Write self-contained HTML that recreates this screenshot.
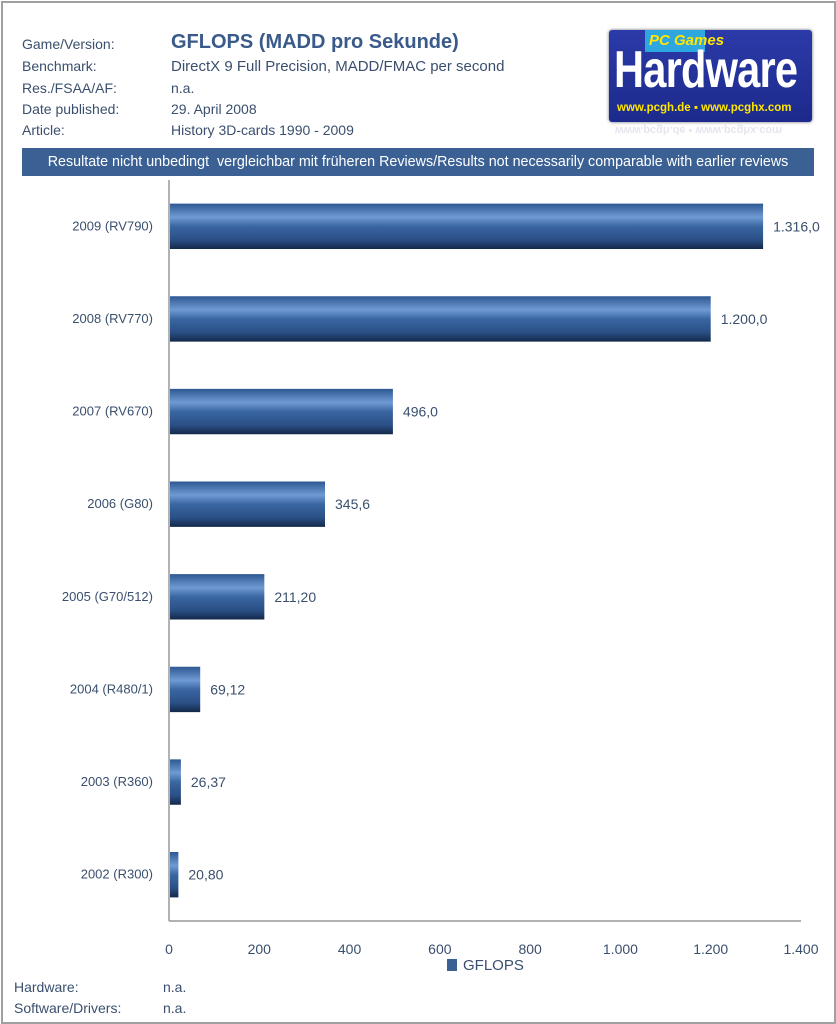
<!DOCTYPE html>
<html><head><meta charset="utf-8"><style>
body{margin:0;width:836px;height:1024px;background:#fff;font-family:"Liberation Sans",sans-serif;position:relative;overflow:hidden}
.t{position:absolute;font-size:14px;color:#3a4f6e;white-space:nowrap}
</style></head><body>
<div style="position:absolute;left:1px;top:1px;width:831px;height:1019px;border:2px solid #a0a0a0"></div>
<div class="t" style="left:22px;top:36px">Game/Version:</div>
<div class="t" style="left:171px;top:31px;font-size:20px;font-weight:bold;color:#3a5a8a">GFLOPS (MADD pro Sekunde)</div>
<div class="t" style="left:22px;top:58px">Benchmark:</div>
<div class="t" style="left:171px;top:58px;font-size:15px">DirectX 9 Full Precision, MADD/FMAC per second</div>
<div class="t" style="left:22px;top:80px">Res./FSAA/AF:</div>
<div class="t" style="left:171px;top:80px">n.a.</div>
<div class="t" style="left:22px;top:101px">Date published:</div>
<div class="t" style="left:171px;top:101px">29. April 2008</div>
<div class="t" style="left:22px;top:122px">Article:</div>
<div class="t" style="left:171px;top:122px">History 3D-cards 1990 - 2009</div>
<div style="position:absolute;left:609px;top:30px;width:203px;height:92px;background:linear-gradient(#2b3aa8,#1c2a8c);border-radius:3px;box-shadow:0 0 3px #667;overflow:hidden">
 <div style="position:absolute;left:36px;top:0;width:60px;height:22px;background:#2ea6e0"></div>
 <div style="position:absolute;left:40px;top:2px;color:#ffe600;font-size:15px;font-weight:bold;font-style:italic">PC Games</div>
 <div style="position:absolute;left:5px;top:10px;color:#fff;font-size:52px;font-weight:bold;letter-spacing:-1px;transform:scaleX(0.8);transform-origin:left">Hardware</div>
 <div style="position:absolute;left:8px;top:72px;color:#ffe600;font-size:11.5px;font-weight:bold">www.pcgh.de ▪ www.pcghx.com</div>
</div>
<div style="position:absolute;left:615px;top:122px;width:190px;height:14px;color:#ccd;font-size:11px;font-weight:bold;transform:scaleY(-1);opacity:.5">www.pcgh.de ▪ www.pcghx.com</div>
<div style="position:absolute;left:22px;top:148px;width:792px;height:28px;background:#3b6194;color:#fff;font-size:14.3px;line-height:28px;text-align:center;white-space:nowrap">Resultate nicht unbedingt&nbsp; vergleichbar mit früheren Reviews/Results not necessarily comparable with earlier reviews</div>
<svg id="c" width="836" height="1024" style="position:absolute;left:0;top:0">
<defs><linearGradient id="g" x1="0" y1="0" x2="0" y2="1">
<stop offset="0" stop-color="#2d5892"/><stop offset="0.3" stop-color="#6f9ad4"/><stop offset="0.5" stop-color="#3a66a2"/><stop offset="0.8" stop-color="#2a4f85"/><stop offset="1" stop-color="#13284a"/></linearGradient></defs>
</svg>
<div style="position:absolute;left:447px;top:957px;font-size:15px;color:#3a4f6e"><span style="display:inline-block;width:10px;height:12px;background:#3b6194;margin-right:6px;vertical-align:-1px"></span>GFLOPS</div>
<div class="t" style="left:14px;top:979px">Hardware:</div>
<div class="t" style="left:163px;top:979px">n.a.</div>
<div class="t" style="left:14px;top:1000px">Software/Drivers:</div>
<div class="t" style="left:163px;top:1000px">n.a.</div>
<script>
const categories=["2009 (RV790)","2008 (RV770)","2007 (RV670)","2006 (G80)","2005 (G70/512)","2004 (R480/1)","2003 (R360)","2002 (R300)"];
const values=[1316,1200,496,345.6,211.2,69.12,26.37,20.8];
const valueLabels=["1.316,0","1.200,0","496,0","345,6","211,20","69,12","26,37","20,80"];
const ticks=[0,200,400,600,800,1000,1200,1400];
const tickLabels=["0","200","400","600","800","1.000","1.200","1.400"];
const svg=document.getElementById('c'),NS="http://www.w3.org/2000/svg";
const X0=169,X1=801,Y0=180,Y1=921;
const x=v=>X0+(v/1400)*(X1-X0);
const band=(Y1-Y0)/categories.length;
const yc=i=>Y0+band*(i+0.5);
function mk(t,a){const e=document.createElementNS(NS,t);for(const k in a)e.setAttribute(k,a[k]);svg.appendChild(e);return e;}
let ax=mk('line',{x1:X0,y1:Y0,x2:X0,y2:Y1,stroke:'#999','stroke-width':1.5});

let bx=mk('line',{x1:X0,y1:Y1,x2:X1,y2:Y1,stroke:'#999','stroke-width':1.5});

ticks.forEach((t,i)=>{const e=mk('text',{x:x(t),y:954,'text-anchor':'middle','font-size':14,fill:'#3a4f6e','font-family':'Liberation Sans'});e.textContent=tickLabels[i];

});
categories.forEach((c,i)=>{const h=band*0.49;
const r=mk('rect',{x:X0+1,y:yc(i)-h/2,width:x(values[i])-X0-1,height:h,fill:'url(#g)'});


const l=mk('text',{x:153,y:yc(i)+4,'text-anchor':'end','font-size':13,fill:'#3a4f6e','font-family':'Liberation Sans'});l.textContent=c;


const v=mk('text',{x:x(values[i])+10,y:yc(i)+5,'font-size':14,fill:'#3a4f6e','font-family':'Liberation Sans'});v.textContent=valueLabels[i];

});
</script>
</body></html>
